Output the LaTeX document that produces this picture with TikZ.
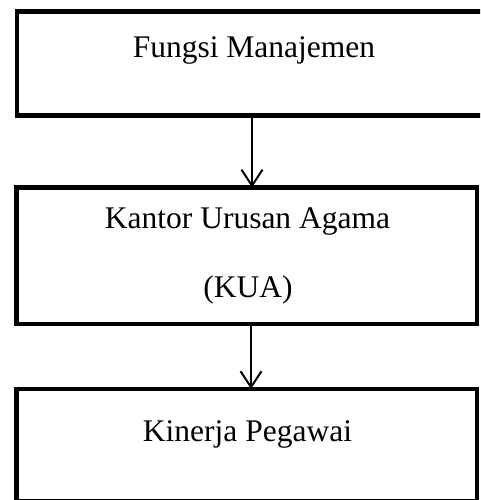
\documentclass[tikz,border=0pt]{standalone}
\usepackage{fontspec}
\setmainfont{Liberation Serif}
\usetikzlibrary{arrows.meta}
\begin{document}
\begin{tikzpicture}[x=1pt,y=-1pt,
  boxnode/.style={draw=black,line width=4.5pt,rectangle,inner sep=0pt,outer sep=0pt},
  label/.style={anchor=base,inner sep=0pt,font=\fontsize{31.5}{38}\selectfont},
  conn/.style={line width=2pt,-{Straight Barb[length=16pt,width=21pt,line width=2pt]}}]
\useasboundingbox (0,0) rectangle (480,500);
\clip (0,0) rectangle (480,500);
\node[boxnode,minimum width=513pt,minimum height=104pt] (top) at (273.5,63.5) {};
\node[boxnode,minimum width=460.5pt,minimum height=136.5pt] (mid) at (246.75,255.75) {};
\node[boxnode,minimum width=460.5pt,minimum height=112pt] (bot) at (246.75,445) {};
\node[label] (t1) at (254,58) {Fungsi Manajemen};
\node[label] (t2) at (247.5,228) {Kantor Urusan Agama};
\node[label] (t3) at (248,297) {(KUA)};
\node[label] (t4) at (247.5,441) {Kinerja Pegawai};
\coordinate (a1) at (252,0);
\coordinate (a2) at (251,0);
\draw[conn] (top.south -| a1) -- (mid.north -| a1);
\draw[conn] (mid.south -| a2) -- (bot.north -| a2);
\end{tikzpicture}
\end{document}
